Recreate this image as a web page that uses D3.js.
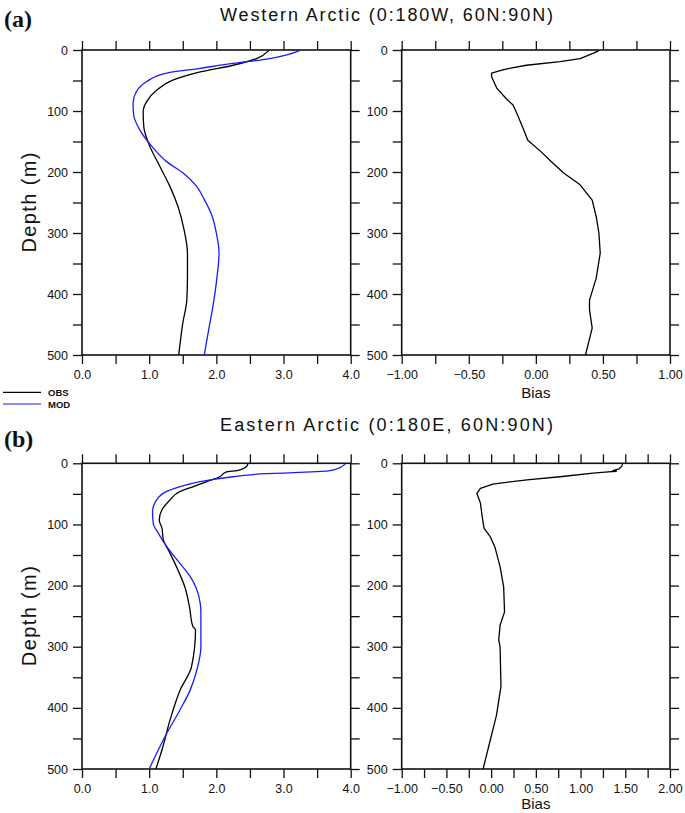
<!DOCTYPE html>
<html>
<head>
<meta charset="utf-8">
<script src="https://cdn.jsdelivr.net/npm/d3@7"></script>
<style>
  html, body { margin: 0; padding: 0; background: #fff; }
  svg { display: block; }
  text { font-family: "Liberation Sans", Arial, Helvetica, sans-serif; fill: #111; }
</style>
</head>
<body>
<svg id="chart" width="685" height="813"></svg>
<script>
// ---------------- DATA ----------------
const TITLES = ["Western Arctic (0:180W, 60N:90N)", "Eastern Arctic (0:180E, 60N:90N)"];
const PANEL_TAGS = ["(a)", "(b)"];
const SERIES_NAMES = ["OBS", "MOD"];
const DEPTH_TICKS = [0, 50, 100, 150, 200, 250, 300, 350, 400, 450, 500];
const DEPTH_LABELS = [0, 100, 200, 300, 400, 500];
const PROFILE_XTICKS = [0, 0.5, 1, 1.5, 2, 2.5, 3, 3.5, 4];
const PROFILE_XLABELS = [0, 1, 2, 3, 4];
const BIAS_XTICKS_W = [-1, -0.75, -0.5, -0.25, 0, 0.25, 0.5, 0.75, 1];
const BIAS_XLABELS_W = [-1, -0.5, 0, 0.5, 1];
const BIAS_XTICKS_E = [-1, -0.75, -0.5, -0.25, 0, 0.25, 0.5, 0.75, 1, 1.25, 1.5, 1.75, 2];
const BIAS_XLABELS_E = [-1, -0.5, 0, 0.5, 1, 1.5, 2];

// Western Arctic
const W_OBS_DEPTH = [1, 14, 25, 36, 49, 66, 85, 101, 126, 158, 191, 224, 257, 295, 333, 370, 410, 448, 500];
const W_OBS       = [2.78, 2.60, 2.25, 1.76, 1.36, 1.11, 0.96, 0.91, 0.92, 1.01, 1.16, 1.31, 1.43, 1.52, 1.57, 1.57, 1.56, 1.50, 1.44];
const W_MOD_DEPTH = [1, 8, 15, 22, 30, 38, 52, 68, 87, 107, 131, 158, 183, 202, 224, 243, 270, 300, 333, 372, 426, 456, 500];
const W_MOD       = [3.24, 3.05, 2.75, 2.25, 1.76, 1.26, 0.96, 0.81, 0.76, 0.77, 0.86, 1.04, 1.26, 1.51, 1.71, 1.81, 1.93, 2.00, 2.04, 2.01, 1.94, 1.89, 1.82];
const W_BIAS_DEPTH = [1, 5, 14, 19, 25, 32, 38, 44, 63, 80, 90, 110, 131, 148, 167, 186, 202, 221, 246, 273, 300, 333, 374, 410, 426, 456, 500];
const W_BIAS       = [0.47, 0.43, 0.33, 0.18, -0.07, -0.24, -0.33, -0.33, -0.29, -0.22, -0.17, -0.13, -0.09, -0.06, 0.04, 0.13, 0.21, 0.33, 0.42, 0.45, 0.47, 0.48, 0.45, 0.40, 0.40, 0.42, 0.37];

// Eastern Arctic
const E_OBS_DEPTH = [1, 7, 12, 14, 22, 30, 38, 46, 60, 76, 93, 106, 125, 147, 175, 202, 235, 267, 272, 333, 371, 420, 469, 500];
const E_OBS       = [2.47, 2.43, 2.31, 2.15, 2.05, 1.86, 1.66, 1.46, 1.31, 1.19, 1.15, 1.19, 1.21, 1.31, 1.43, 1.53, 1.60, 1.65, 1.69, 1.63, 1.46, 1.31, 1.19, 1.10];
const E_MOD_DEPTH = [1, 7, 12, 15, 17, 22, 30, 38, 46, 60, 79, 98, 115, 136, 164, 185, 204, 229, 245, 289, 300, 338, 371, 403, 442, 500];
const E_MOD       = [3.92, 3.84, 3.69, 3.24, 2.75, 2.25, 1.76, 1.46, 1.26, 1.11, 1.05, 1.06, 1.14, 1.26, 1.46, 1.61, 1.70, 1.76, 1.77, 1.77, 1.77, 1.71, 1.61, 1.46, 1.26, 1.00];
const E_BIAS_DEPTH = [1, 5, 9, 12, 13, 14, 16, 22, 27, 34, 41, 49, 65, 87, 106, 120, 136, 169, 202, 243, 265, 289, 300, 365, 412, 453, 500];
const E_BIAS       = [1.47, 1.46, 1.43, 1.36, 1.40, 1.31, 1.14, 0.77, 0.40, 0.02, -0.12, -0.16, -0.12, -0.10, -0.08, -0.01, 0.04, 0.10, 0.14, 0.15, 0.10, 0.085, 0.10, 0.11, 0.06, -0.01, -0.09];

// ---------------- LAYOUT ----------------
const svg = d3.select("#chart");
const COLORS = { OBS: "#000000", MOD: "#1a1aff" };
const LEFT_X = [82, 350.7];
const RIGHT_X = [401.7, 670];
const ROWS = [
  { y: [50, 355], title: 21, tag: 27, legend: true, biasDy: 43 },
  { y: [463.3, 769], title: 431, tag: 447, legend: false, biasDy: 40 }
];

function zip(ds, vs) { return ds.map((d, i) => ({ d: d, v: vs[i] })); }

function drawPanel(xRange, yRange, xDomain, xTicks, xLabels, xFmt, lines, curve, xTitle, titleDy) {
  const x = d3.scaleLinear().domain(xDomain).range(xRange);
  const y = d3.scaleLinear().domain([0, 500]).range(yRange);
  const g = svg.append("g");
  const TS = 9;
  const labFmtY = d => DEPTH_LABELS.includes(d) ? String(d) : "";
  const labFmtX = d => xLabels.some(l => Math.abs(l - d) < 1e-9) ? xFmt(d) : "";

  const styleAxis = sel => {
    sel.select(".domain").remove();
    sel.selectAll(".tick line").attr("stroke", "#111").attr("stroke-width", 1.3);
    sel.selectAll(".tick text").style("font-size", "12.5px").attr("fill", "#111")
       .style("font-family", '"Liberation Sans", Arial, sans-serif');
  };

  g.append("g").attr("transform", `translate(${xRange[0]},0)`)
    .call(d3.axisLeft(y).tickValues(DEPTH_TICKS).tickSize(TS).tickPadding(5).tickFormat(labFmtY)).call(styleAxis);
  g.append("g").attr("transform", `translate(${xRange[1]},0)`)
    .call(d3.axisRight(y).tickValues(DEPTH_TICKS).tickSize(TS).tickFormat("")).call(styleAxis);
  g.append("g").attr("transform", `translate(0,${yRange[0]})`)
    .call(d3.axisTop(x).tickValues(xTicks).tickSize(TS).tickFormat("")).call(styleAxis);
  g.append("g").attr("transform", `translate(0,${yRange[1]})`)
    .call(d3.axisBottom(x).tickValues(xTicks).tickSize(TS).tickPadding(6.5).tickFormat(labFmtX)).call(styleAxis);

  // frame
  g.append("rect")
    .attr("x", xRange[0]).attr("y", yRange[0])
    .attr("width", xRange[1] - xRange[0]).attr("height", yRange[1] - yRange[0])
    .attr("fill", "none").attr("stroke", "#111").attr("stroke-width", 1.6);

  const line = d3.line().x(p => x(p.v)).y(p => y(p.d)).curve(curve);
  lines.forEach(l => {
    g.append("path").datum(l.data)
      .attr("d", line).attr("fill", "none")
      .attr("stroke", l.color).attr("stroke-width", 1.3).attr("stroke-linejoin", "round");
  });

  if (xTitle) {
    g.append("text").attr("x", (xRange[0] + xRange[1]) / 2).attr("y", yRange[1] + titleDy)
      .attr("text-anchor", "middle").style("font-size", "15px").text(xTitle);
  }
}

const DATA = [
  { obs: zip(W_OBS_DEPTH, W_OBS), mod: zip(W_MOD_DEPTH, W_MOD), bias: zip(W_BIAS_DEPTH, W_BIAS),
    bTicks: BIAS_XTICKS_W, bLabels: BIAS_XLABELS_W, bDomain: [-1, 1] },
  { obs: zip(E_OBS_DEPTH, E_OBS), mod: zip(E_MOD_DEPTH, E_MOD), bias: zip(E_BIAS_DEPTH, E_BIAS),
    bTicks: BIAS_XTICKS_E, bLabels: BIAS_XLABELS_E, bDomain: [-1, 2] }
];

ROWS.forEach((row, i) => {
  const dat = DATA[i];
  // panel tag
  svg.append("text").attr("x", 4).attr("y", row.tag)
    .style("font-family", '"Liberation Serif", "Times New Roman", serif')
    .style("font-weight", "bold").style("font-size", "24px").text(PANEL_TAGS[i]);
  // title
  svg.append("text").attr("x", 386.5).attr("y", row.title).attr("text-anchor", "middle")
    .attr("textLength", 333).attr("lengthAdjust", "spacing")
    .style("font-size", "18px").text(TITLES[i]);
  // y title
  const cy = (row.y[0] + row.y[1]) / 2;
  svg.append("text").attr("transform", `translate(36,${cy}) rotate(-90)`)
    .attr("text-anchor", "middle").attr("textLength", 100).attr("lengthAdjust", "spacing")
    .style("font-size", "20px").text("Depth (m)");

  drawPanel(LEFT_X, row.y, [0, 4], PROFILE_XTICKS, PROFILE_XLABELS, d3.format(".1f"),
    [{ data: dat.obs, color: COLORS.OBS }, { data: dat.mod, color: COLORS.MOD }],
    d3.curveMonotoneY, null, 0);
  drawPanel(RIGHT_X, row.y, dat.bDomain, dat.bTicks, dat.bLabels, d3.format(".2f"),
    [{ data: dat.bias, color: COLORS.OBS }], d3.curveLinear, "Bias", row.biasDy);

  if (row.legend) {
    const leg = svg.append("g");
    SERIES_NAMES.forEach((n, k) => {
      const ly = 392.3 + k * 11.7;
      leg.append("line").attr("x1", 3).attr("x2", 41).attr("y1", ly).attr("y2", ly)
        .attr("stroke", COLORS[n]).attr("stroke-width", 1.2);
      leg.append("text").attr("x", 48).attr("y", ly + 3.5)
        .style("font-size", "9.5px").style("font-weight", "bold").text(n);
    });
  }
});
</script>
</body>
</html>
